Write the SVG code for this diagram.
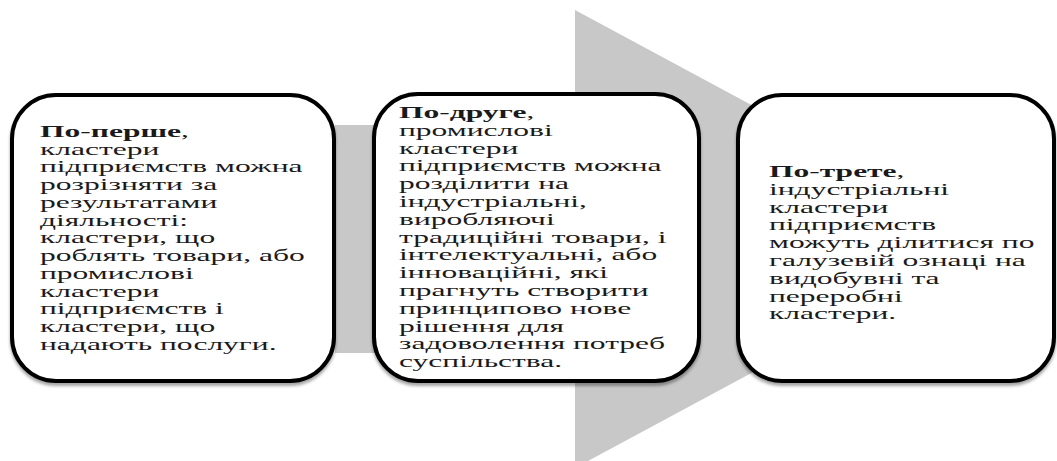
<svg xmlns="http://www.w3.org/2000/svg" width="1057" height="461" viewBox="0 0 1057 461">
<defs>
<style>
.box{fill:#ffffff;stroke:#000000;stroke-width:4;filter:url(#sh)}
.t{font-family:"Liberation Serif","Times New Roman",serif;font-size:16px;fill:#1a1a1a}
.b{font-weight:bold}
.bg{fill:#c8c8c8}
</style>
<filter id="sh" x="-5%" y="-5%" width="110%" height="115%">
<feDropShadow dx="0" dy="3" stdDeviation="1.5" flood-color="#000" flood-opacity="0.35"/>
</filter>
</defs>
<rect width="1057" height="461" fill="#ffffff"/>
<g id="connectors">
<path class="bg" d="M335,125 L575,125 L575,10 L1000,239 L575,468 L575,353 L335,353 Z"/>
</g>
<g id="node1">
<rect class="box" x="12" y="95" width="322" height="286" rx="44"/>
<g transform="translate(40,0) scale(1.97,1)">
<text class="t">
<tspan x="0" y="137"><tspan class="b">По-перше</tspan>,</tspan>
<tspan x="0" y="154.75">кластери</tspan>
<tspan x="0" y="172.5">підприємств можна</tspan>
<tspan x="0" y="190.25">розрізняти за</tspan>
<tspan x="0" y="208">результатами</tspan>
<tspan x="0" y="225.75">діяльності:</tspan>
<tspan x="0" y="243.5">кластери, що</tspan>
<tspan x="0" y="261.25">роблять товари, або</tspan>
<tspan x="0" y="279">промислові</tspan>
<tspan x="0" y="296.75">кластери</tspan>
<tspan x="0" y="314.5">підприємств і</tspan>
<tspan x="0" y="332.25">кластери, що</tspan>
<tspan x="0" y="350">надають послуги.</tspan>
</text>
</g>
</g>
<g id="node2">
<rect class="box" x="374" y="94" width="325" height="287" rx="44"/>
<g transform="translate(399,0) scale(1.97,1)">
<text class="t">
<tspan x="0" y="118"><tspan class="b">По-друге</tspan>,</tspan>
<tspan x="0" y="135.8">промислові</tspan>
<tspan x="0" y="153.6">кластери</tspan>
<tspan x="0" y="171.4">підприємств можна</tspan>
<tspan x="0" y="189.2">розділити на</tspan>
<tspan x="0" y="207">індустріальні,</tspan>
<tspan x="0" y="224.8">виробляючі</tspan>
<tspan x="0" y="242.6">традиційні товари, і</tspan>
<tspan x="0" y="260.4">інтелектуальні, або</tspan>
<tspan x="0" y="278.2">інноваційні, які</tspan>
<tspan x="0" y="296">прагнуть створити</tspan>
<tspan x="0" y="313.8">принципово нове</tspan>
<tspan x="0" y="331.6">рішення для</tspan>
<tspan x="0" y="349.4">задоволення потреб</tspan>
<tspan x="0" y="367.2">суспільства.</tspan>
</text>
</g>
</g>
<g id="node3">
<rect class="box" x="738" y="95" width="316" height="286" rx="44"/>
<g transform="translate(769,0) scale(1.97,1)">
<text class="t">
<tspan x="0" y="177"><tspan class="b">По-трете</tspan>,</tspan>
<tspan x="0" y="194.8">індустріальні</tspan>
<tspan x="0" y="212.6">кластери</tspan>
<tspan x="0" y="230.4">підприємств</tspan>
<tspan x="0" y="248.2">можуть ділитися по</tspan>
<tspan x="0" y="266">галузевій ознаці на</tspan>
<tspan x="0" y="283.8">видобувні та</tspan>
<tspan x="0" y="301.6">переробні</tspan>
<tspan x="0" y="319.4">кластери.</tspan>
</text>
</g>
</g>
</svg>
